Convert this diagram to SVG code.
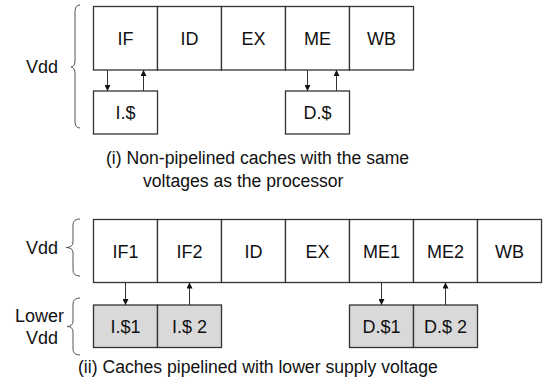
<svg xmlns="http://www.w3.org/2000/svg" width="545" height="384" viewBox="0 0 545 384">
<style>
.box{fill:#fff;stroke:#333;stroke-width:1.3}
.cache{fill:#d9d9d9;stroke:#333;stroke-width:1.3}
.lbl{font-family:"Liberation Sans",Arial,sans-serif;font-size:18px;fill:#111;text-anchor:middle}
.txt{font-family:"Liberation Sans",Arial,sans-serif;font-size:18px;fill:#111}
.cap{font-family:"Liberation Sans",Arial,sans-serif;font-size:17.6px;fill:#111}
.conn{stroke:#333;stroke-width:1;fill:none;marker-end:url(#ah)}
.brace{stroke:#555;stroke-width:1;fill:none}
</style>
<defs>
<marker id="ah" viewBox="0 0 10 10" refX="10" refY="5" markerWidth="6" markerHeight="6" markerUnits="userSpaceOnUse" orient="auto">
<path d="M0,0 L10,5 L0,10 z" fill="#111"/>
</marker>
</defs>
<rect width="545" height="384" fill="#fff"/>

<!-- Top diagram -->
<g id="t-vdd"><text class="txt" x="26" y="73">Vdd</text></g>
<g id="t-brace"><path class="brace" d="M80,5 Q75,5 75,12 L75,60 Q75,67 71,67 Q75,67 75,74 L75,121 Q75,128 80,128"/></g>
<g id="t-IF"><rect class="box" x="93.5" y="6.5" width="64" height="63.5"/><text class="lbl" x="125.5" y="45">IF</text></g>
<g id="t-ID"><rect class="box" x="157.5" y="6.5" width="64" height="63.5"/><text class="lbl" x="189.5" y="45">ID</text></g>
<g id="t-EX"><rect class="box" x="221.5" y="6.5" width="64" height="63.5"/><text class="lbl" x="253.5" y="45">EX</text></g>
<g id="t-ME"><rect class="box" x="285.5" y="6.5" width="64" height="63.5"/><text class="lbl" x="317.5" y="45">ME</text></g>
<g id="t-WB"><rect class="box" x="349.5" y="6.5" width="64" height="63.5"/><text class="lbl" x="381.5" y="45">WB</text></g>
<g id="t-Icache"><rect class="box" x="93.5" y="91" width="64" height="43"/><text class="lbl" x="125.5" y="119">I.$</text></g>
<g id="t-Dcache"><rect class="box" x="285.5" y="91" width="64" height="43"/><text class="lbl" x="317.5" y="119">D.$</text></g>
<g id="t-caption"><text class="cap" x="106" y="164">(i) Non-pipelined caches with the same</text><text class="cap" x="143" y="187">voltages as the processor</text></g>

<!-- Bottom diagram -->
<g id="b-vdd"><text class="txt" x="26" y="254">Vdd</text></g>
<g id="b-brace1"><path class="brace" d="M80,219 Q73,219 73,225 L73,242 Q73,247.5 66,247.5 Q73,247.5 73,253 L73,270 Q73,276 80,276"/></g>
<g id="b-lower"><text class="txt" x="15" y="322">Lower</text><text class="txt" x="26" y="344">Vdd</text></g>
<g id="b-brace2"><path class="brace" d="M80,298 Q73,298 73,304 L73,321 Q73,326.5 67,326.5 Q73,326.5 73,332 L73,349 Q73,355 80,355"/></g>
<g id="b-IF1"><rect class="box" x="93.5" y="219.5" width="64" height="63"/><text class="lbl" x="125.5" y="257.5">IF1</text></g>
<g id="b-IF2"><rect class="box" x="157.5" y="219.5" width="64" height="63"/><text class="lbl" x="189.5" y="257.5">IF2</text></g>
<g id="b-ID"><rect class="box" x="221.5" y="219.5" width="64" height="63"/><text class="lbl" x="253.5" y="257.5">ID</text></g>
<g id="b-EX"><rect class="box" x="285.5" y="219.5" width="64" height="63"/><text class="lbl" x="317.5" y="257.5">EX</text></g>
<g id="b-ME1"><rect class="box" x="349.5" y="219.5" width="64" height="63"/><text class="lbl" x="381.5" y="257.5">ME1</text></g>
<g id="b-ME2"><rect class="box" x="413.5" y="219.5" width="64" height="63"/><text class="lbl" x="445.5" y="257.5">ME2</text></g>
<g id="b-WB"><rect class="box" x="477.5" y="219.5" width="64" height="63"/><text class="lbl" x="509.5" y="257.5">WB</text></g>
<g id="b-I1"><rect class="cache" x="93.5" y="305" width="64" height="42.5"/><text class="lbl" x="125.5" y="332.5">I.$1</text></g>
<g id="b-I2"><rect class="cache" x="157.5" y="305" width="64" height="42.5"/><text class="lbl" x="189.5" y="332.5">I.$ 2</text></g>
<g id="b-D1"><rect class="cache" x="349.5" y="305" width="64" height="42.5"/><text class="lbl" x="381.5" y="332.5">D.$1</text></g>
<g id="b-D2"><rect class="cache" x="413.5" y="305" width="64" height="42.5"/><text class="lbl" x="445.5" y="332.5">D.$ 2</text></g>
<g id="b-caption"><text class="cap" x="78" y="373">(ii) Caches pipelined with lower supply voltage</text></g>

<g id="connectors">
<path class="conn" d="M107.5,70 L107.5,91"/>
<path class="conn" d="M143.5,91 L143.5,70"/>
<path class="conn" d="M307.5,70 L307.5,91"/>
<path class="conn" d="M336.5,91 L336.5,70"/>
<path class="conn" d="M125.5,282.5 L125.5,305"/>
<path class="conn" d="M189.5,305 L189.5,282.5"/>
<path class="conn" d="M381.5,282.5 L381.5,305"/>
<path class="conn" d="M445.5,305 L445.5,282.5"/>
</g>
</svg>
